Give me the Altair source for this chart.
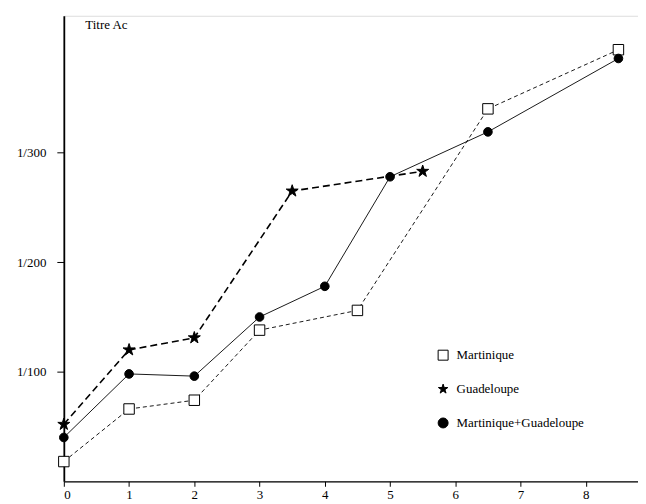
import altair as alt
import pandas as pd

series_names = ["Martinique", "Guadeloupe", "Martinique+Guadeloupe"]

mart_x = [0, 1, 2, 3, 4.5, 6.5, 8.5]
mart_y = [18, 66, 74, 138, 156, 340, 394]

guad_x = [0, 1, 2, 3.5, 5.5]
guad_y = [52, 120, 131, 265, 283]

both_x = [0, 1, 2, 3, 4, 5, 6.5, 8.5]
both_y = [40, 98, 96, 150, 178, 278, 319, 386]

y_ticks = [100, 200, 300]
x_ticks = [0, 1, 2, 3, 4, 5, 6, 7, 8]

rows = []
for name, xs, ys in zip(series_names, [mart_x, guad_x, both_x], [mart_y, guad_y, both_y]):
    for i, (a, b) in enumerate(zip(xs, ys)):
        rows.append({"serie": name, "x": a, "y": b, "i": i})
df = pd.DataFrame(rows)

FONT = "Liberation Serif, DejaVu Serif, serif"
star = ("M0,-1L0.2245,-0.309L0.951,-0.309L0.363,0.118L0.588,0.809L0,0.382"
        "L-0.588,0.809L-0.363,0.118L-0.951,-0.309L-0.2245,-0.309Z")

xs = alt.X("x:Q", scale=alt.Scale(domain=[0, 8.8], nice=False, zero=False),
           axis=alt.Axis(values=x_ticks, format="d", title=None, grid=False,
                         labelFont=FONT, labelFontSize=13, labelColor="black",
                         domainColor="black", domainWidth=1.3, tickColor="black",
                         tickSize=5, labelPadding=2))
ys = alt.Y("y:Q", scale=alt.Scale(domain=[0, 425], nice=False, zero=False),
           axis=alt.Axis(values=y_ticks, labelExpr="'1/' + datum.value",
                         title="Titre  Ac", titleAngle=0, titleAlign="left",
                         titleBaseline="middle", titleX=21, titleY=9,
                         titleFont=FONT, titleFontSize=13, titleFontWeight="normal",
                         titleColor="black", grid=False,
                         labelFont=FONT, labelFontSize=13, labelColor="black",
                         domainColor="black", domainWidth=1.8, tickColor="black",
                         tickSize=7, labelPadding=11))

shape_scale = alt.Scale(domain=series_names, range=["square", star, "circle"])
fill_scale = alt.Scale(domain=series_names, range=["white", "black", "black"])
stroke_scale = alt.Scale(domain=series_names, range=["black", "black", "black"])

def legend():
    return alt.Legend(title=None, orient="none", legendX=374, legendY=334,
                      labelFont=FONT, labelFontSize=13, labelColor="black",
                      rowPadding=19, symbolSize=100, symbolStrokeColor="black",
                      symbolStrokeWidth=1, labelOffset=7, padding=0)

line_styles = {
    "Martinique": dict(strokeDash=[4, 3], strokeWidth=0.9),
    "Guadeloupe": dict(strokeDash=[7, 4], strokeWidth=1.6),
    "Martinique+Guadeloupe": dict(strokeWidth=0.9),
}
point_sizes = {"Martinique": 110, "Guadeloupe": 160, "Martinique+Guadeloupe": 75}

base = alt.Chart(df)
layers = []
for name in series_names:
    layers.append(
        base.transform_filter(alt.datum.serie == name)
        .mark_line(color="black", **line_styles[name])
        .encode(x=xs, y=ys, order="i:Q")
    )
for name in series_names:
    layers.append(
        base.transform_filter(alt.datum.serie == name)
        .mark_point(strokeWidth=1, opacity=1, fillOpacity=1, strokeOpacity=1,
                    size=point_sizes[name])
        .encode(x=xs, y=ys,
                shape=alt.Shape("serie:N", scale=shape_scale, legend=legend()),
                fill=alt.Fill("serie:N", scale=fill_scale, legend=legend()),
                stroke=alt.Stroke("serie:N", scale=stroke_scale, legend=legend()))
    )

chart = alt.layer(*layers).properties(
    width=576, height=467,
    padding={"left": 56, "top": 7, "right": 0, "bottom": 20},
    autosize=alt.AutoSizeParams(type="none"),
).configure_view(strokeWidth=0).configure(background="white")

chart.save("out.html", embed_options={"renderer": "svg", "actions": False})
